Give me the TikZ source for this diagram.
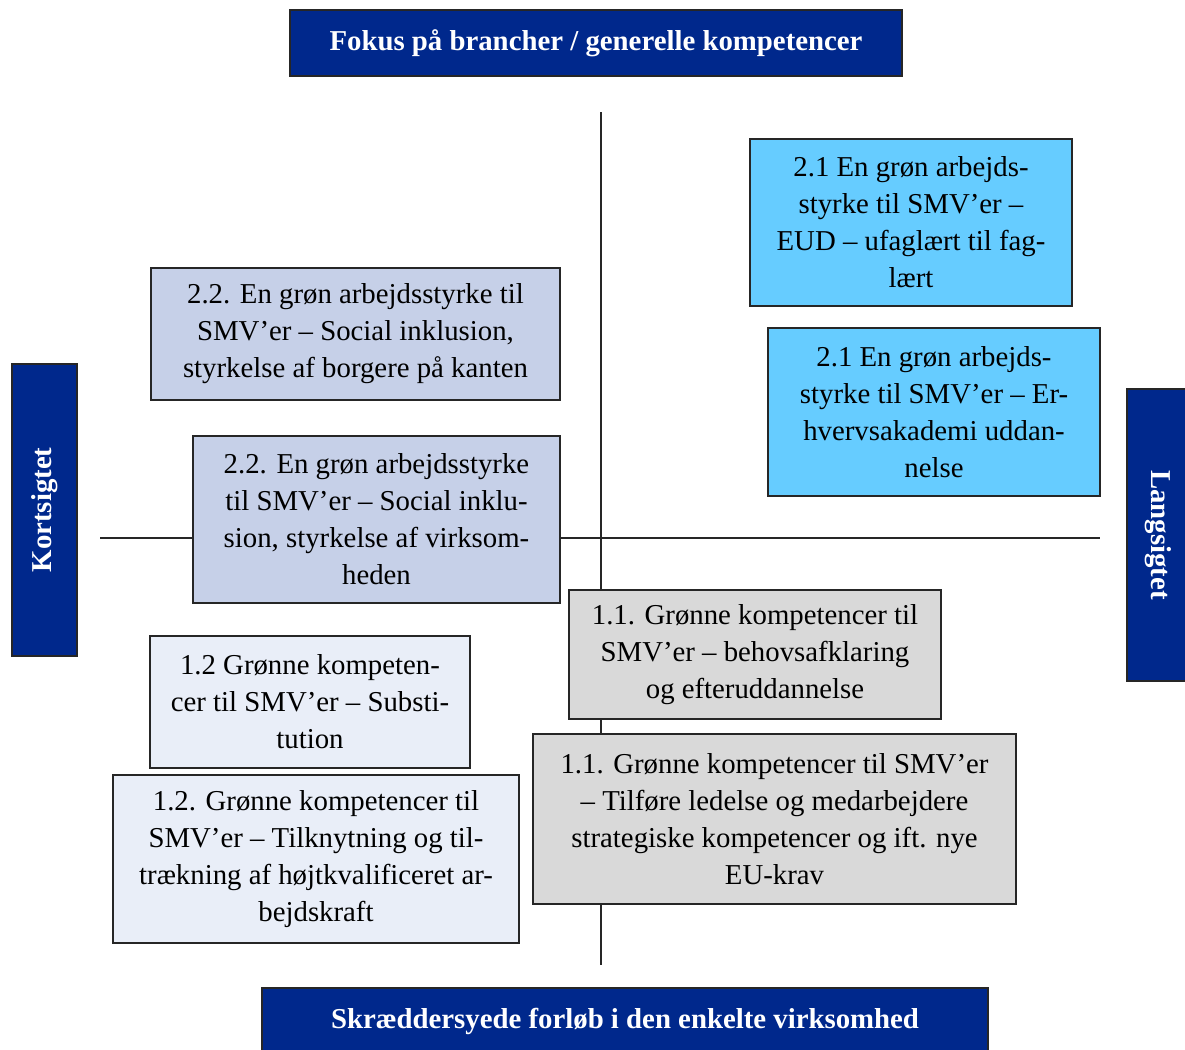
\documentclass[tikz,border=0pt]{standalone}
\usepackage{fontspec}
\setmainfont{Liberation Serif}
\definecolor{hdrblue}{RGB}{0,40,140}
\definecolor{skyb}{RGB}{102,204,255}
\definecolor{lav}{RGB}{198,208,232}
\definecolor{pale}{RGB}{233,238,248}
\definecolor{grayb}{RGB}{217,217,217}
\begin{document}
\begin{tikzpicture}[x=1pt,y=-1pt,
  box/.style={draw=black!85, line width=1.3pt, align=center, inner sep=0pt,
    font=\fontsize{28.8}{37}\selectfont},
  hdr/.style={draw=black!85, line width=1.3pt, fill=hdrblue, text=white, align=center,
    inner sep=0pt, font=\fontsize{28.8}{32}\selectfont\bfseries},
  axis/.style={line width=1.3pt, black!85}]
\useasboundingbox (0,0) rectangle (1185,1049);
% axes
\coordinate (vt) at (601,112);
\coordinate (vb) at (601,965);
\coordinate (hl) at (100,538);
\coordinate (hr) at (1100,538);
\draw[axis] (vt) -- (vb);
\draw[axis] (hl) -- (hr);
% headers
\node[hdr, minimum width=612, minimum height=66] (top) at (596,43) {Fokus på brancher / generelle kompetencer};
\node[hdr, minimum width=726, minimum height=66] (bot) at (625,1021) {Skræddersyede forløb i den enkelte virksomhed};
\node[hdr, rotate=90, minimum width=292, minimum height=65] (left) at (44.5,510) {Kortsigtet};
\node[hdr, rotate=-90, minimum width=292, minimum height=62] (right) at (1158,535) {Langsigtet};
% boxes
\node[box, fill=skyb, minimum width=322, minimum height=167] (a) at (911,222.5)
  {2.1 En grøn arbejds-\\styrke til SMV’er –\\EUD – ufaglært til fag-\\lært};
\node[box, fill=skyb, minimum width=332, minimum height=168] (b) at (934,412)
  {2.1 En grøn arbejds-\\styrke til SMV’er – Er-\\hvervsakademi uddan-\\nelse};
\node[box, fill=lav, minimum width=409, minimum height=132] (c) at (355.5,334)
  {2.2. En grøn arbejdsstyrke til\\SMV’er – Social inklusion,\\styrkelse af borgere på kanten};
\node[box, fill=lav, minimum width=367, minimum height=167] (d) at (376.5,519.5)
  {2.2. En grøn arbejdsstyrke\\til SMV’er – Social inklu-\\sion, styrkelse af virksom-\\heden};
\node[box, fill=pale, minimum width=320, minimum height=132] (e) at (310,702)
  {1.2 Grønne kompeten-\\cer til SMV’er – Substi-\\tution};
\node[box, fill=pale, minimum width=406, minimum height=168] (f) at (316,859)
  {1.2. Grønne kompetencer til\\SMV’er – Tilknytning og til-\\trækning af højtkvalificeret ar-\\bejdskraft};
\node[box, fill=grayb, minimum width=372, minimum height=129] (g) at (755,654.5)
  {1.1. Grønne kompetencer til\\SMV’er – behovsafklaring\\og efteruddannelse};
\node[box, fill=grayb, minimum width=483, minimum height=170] (h) at (774.5,819)
  {1.1. Grønne kompetencer til SMV’er\\– Tilføre ledelse og medarbejdere\\strategiske kompetencer og ift. nye\\EU-krav};
\end{tikzpicture}
\end{document}
